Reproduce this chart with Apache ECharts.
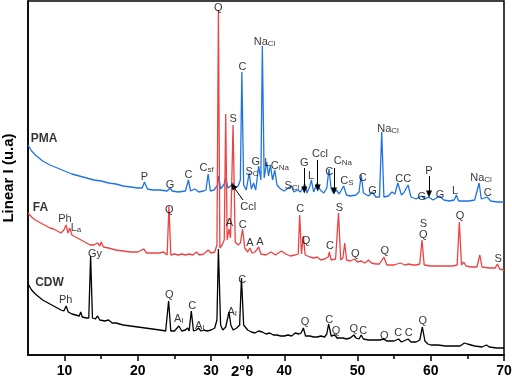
<!DOCTYPE html>
<html>
<head>
<meta charset="utf-8">
<script src="https://cdn.jsdelivr.net/npm/echarts@6/dist/echarts.min.js"></script>
<style>html,body{margin:0;padding:0;background:#fff}#c{width:512px;height:386px}</style>
</head>
<body>
<div id="c"></div>
<script>
// x tick labels
const tickLabels = [10, 20, 30, 40, 50, 60, 70];
const minorTicks = [15, 25, 35, 45, 55, 65];

// CDW (black) pattern: [2theta, intensity (a.u.)]
const cdw = [[5,71],[5.5,65],[6,61],[6.5,58],[7,55],[7.5,53],[8,51],[8.5,49],[9,47],[9.5,45],[9.9,44],[10.2,49],[10.5,43],[11,41],[11.5,40],[12,39],[12.2,43],[12.4,38],[13,37],[13.3,37],[13.55,99],[13.8,37],[14.2,36],[14.5,39],[14.8,35],[15.5,34],[16,35],[16.5,32],[17,32],[18,30],[19,29],[20,28],[21,27],[22,26],[23,25],[23.8,24],[24.2,54],[24.5,24],[25,24],[25.6,29],[26,24],[26.5,25],[26.8,27],[27.0,24],[27.3,44],[27.6,24],[28,25],[28.3,27],[28.6,24],[29,25],[29.5,24],[30,25],[30.5,27],[30.8,35],[31.0,106],[31.3,30],[31.6,25],[32,28],[32.2,30],[32.45,43],[32.7,30],[33,25],[33.5,27],[33.9,30],[34.15,77],[34.45,30],[35,25],[35.5,23],[36,22],[36.5,24],[37,23],[37.5,21],[38,22],[38.5,20],[39,20],[39.5,19],[40,19],[40.5,20],[41,19],[41.5,22],[42,21],[42.3,22],[42.6,27],[42.9,19],[43.5,19],[44,18],[44.5,18],[45,19],[45.5,18],[45.8,21],[46.05,31],[46.4,19],[46.9,20],[47.2,17],[47.5,17],[48,17],[48.5,16],[49,17],[49.5,20],[49.8,17],[50.2,16],[50.5,20],[50.8,16],[51.5,15],[52,15],[52.5,15],[53,15],[53.6,16],[54,14],[54.5,14],[55,14],[55.6,16],[56,13],[56.9,16],[57.3,13],[58,13],[58.5,15],[58.85,28],[59.2,14],[59.6,11],[60,10],[61,10],[62,9],[63,9],[64,9],[64.6,12],[65,11],[65.5,10],[66,9],[67,8],[67.6,10],[68,8],[69,7],[70,7]];

// FA (red) pattern
const fa = [[5,142],[5.5,138],[6,135],[6.5,133],[7,131],[7.5,129],[8,127],[8.5,126],[9,124],[9.5,122],[9.9,125],[10.2,130],[10.45,122],[10.7,127],[11.0,120],[11.5,118],[12,116],[12.5,114],[13,112],[13.5,110],[14,110],[14.5,112],[14.8,109],[15,113],[15.3,108],[16,107],[17,105],[18,104],[19,103],[20,103],[20.8,106],[21.2,102],[22,102],[23,102],[23.5,103],[24.0,100],[24.25,149],[24.5,100],[25,101],[25.5,100],[26,101],[26.5,100],[27,101],[27.5,100],[28,103],[28.4,100],[29,101],[29.6,105],[30,102],[30.5,103],[30.8,110],[31.0,345],[31.2,107],[31.5,110],[31.8,115],[32.0,241],[32.2,115],[32.45,126],[32.65,117],[33.0,230],[33.3,113],[33.7,110],[34.0,112],[34.3,126],[34.6,107],[35.0,103],[35.3,107],[35.6,102],[36.0,103],[36.5,108],[36.8,101],[37.5,100],[38.2,103],[38.8,100],[39.6,104],[40.2,101],[40.8,99],[41.5,100],[41.9,101],[42.1,140],[42.35,101],[42.6,119],[42.85,100],[43.5,98],[44,97],[44.5,98],[45,95],[45.5,96],[46.0,98],[46.15,103],[46.4,95],[47.0,96],[47.4,142],[47.7,95],[48.0,97],[48.25,112],[48.5,95],[49,94],[49.6,96],[50,93],[50.5,94],[51,92],[51.5,95],[51.9,92],[52.5,91],[53,91],[53.6,98],[54,90],[55,90],[55.8,92],[56.5,90],[57,91],[57.5,90],[58,90],[58.5,91],[58.8,115],[59.1,90],[60,89],[61,89],[62,89],[63,89],[63.6,90],[63.9,133],[64.2,90],[64.5,93],[64.8,89],[65.5,88],[66.3,88],[66.7,100],[67.0,88],[68,87],[68.8,87],[69.1,91],[69.4,86],[70,85]];

// PMA (blue) pattern
const pma = [[5,210],[5.5,204],[6,200],[6.5,197],[7,194],[7.5,192],[8,190],[9,187],[10,184],[11,181],[12,179],[13,177],[14,175],[15,174],[16,172],[17,171],[18,169],[19,168],[20,167],[20.6,167],[20.9,173],[21.3,166],[22,165],[23,165],[24,164],[24.4,167],[24.7,164],[25.5,163],[26.5,164],[26.9,175],[27.2,164],[27.8,166],[28.3,163],[29,164],[29.3,165],[29.6,181],[29.9,164],[30.4,165],[30.9,170],[31.05,179],[31.3,166],[31.8,171],[32.0,177],[32.3,167],[32.7,169],[33.0,172],[33.3,167],[33.7,169],[34.0,175],[34.2,283],[34.45,170],[34.8,165],[35.2,182],[35.5,166],[35.8,172],[36.1,165],[36.5,189],[36.8,175],[37.0,309],[37.25,177],[37.6,193],[37.85,179],[38.1,190],[38.4,175],[38.7,185],[39.0,170],[39.5,166],[40.0,164],[40.5,167],[41.0,169],[41.3,163],[41.8,165],[42.2,163],[42.8,171],[43.1,162],[43.5,169],[43.7,175],[44.0,163],[44.5,172],[44.9,165],[45.4,162],[45.8,167],[46.1,186],[46.4,166],[46.7,162],[47.1,165],[47.5,161],[48.1,169],[48.5,160],[49,159],[49.8,160],[50.2,163],[50.5,180],[50.8,162],[51.5,159],[52.0,163],[52.5,158],[53.0,158],[53.3,223],[53.6,158],[54.2,159],[54.7,163],[55.1,161],[55.5,172],[56.0,160],[56.3,162],[56.9,170],[57.3,158],[58,156],[58.7,159],[59.2,156],[59.7,158],[60.3,155],[61.2,159],[61.8,155],[62.5,154],[63.2,155],[63.5,160],[63.8,154],[64.5,154],[65.2,154],[66.0,155],[66.6,172],[66.9,156],[67.7,158],[68.2,154],[69,153],[70,153]];

// sample names
const sampleNames = [[7.18,216,'PMA'],[6.71,147,'FA'],[7.94,72,'CDW']];

// phase labels
const pmaLabels = [[20.9,178,'P'],[24.4,170,'G'],[26.9,180,'C'],[29.4,187,'C{s|sf}'],[34.3,288,'C'],[37.3,313,'Na{s|Cl}'],[35.6,183,'S{s|C}'],[36.1,193,'G'],[37.68,192,'L'],[39.4,189,'C{s|Na}'],[41.05,169,'S{s|Cl}'],[42.73,192,'G'],[43.65,179,'L'],[44.87,201,'Ccl'],[46.14,183,'C'],[48.0,194,'C{s|Na}'],[48.56,174,'C{s|S}'],[50.7,177,'C'],[52.04,164,'G'],[54.16,226,'Na{s|Cl}'],[56.25,176,'CC'],[59.76,184,'P'],[58.76,158,'G'],[61.26,160,'G'],[63.31,164,'L'],[66.86,177,'Na{s|Cl}'],[67.78,162,'C'],[35.08,148,'Ccl']];
const faLabels = [[30.99,347,'Q'],[33.03,236,'S'],[10.05,136,'Ph'],[11.55,127,'L{s|a}'],[24.3,145,'Q'],[32.49,132,'A'],[34.32,130,'C'],[35.32,112,'A'],[36.68,113,'A'],[42.18,146,'C'],[42.96,114,'Q'],[46.24,109,'C'],[47.51,147,'S'],[49.7,101,'Q'],[53.71,104,'Q'],[58.98,131,'S'],[58.98,120,'Q'],[63.99,139,'Q'],[69.22,96,'S']];
const cdwLabels = [[14.15,101,'Gy'],[10.15,55,'Ph'],[24.3,60,'Q'],[25.6,36,'A{s|I}'],[27.44,49,'C'],[28.45,29,'A{s|I}'],[32.9,43,'A{s|I}'],[34.26,75,'C'],[42.83,33,'Q'],[46.14,35,'C'],[47.06,24,'Q'],[49.48,26,'Q'],[50.79,24,'C'],[53.65,19,'Q'],[55.57,22,'C'],[56.99,22,'C'],[58.9,34,'Q']];

// arrows: [x1, y1, x2, y2]
const arrows = [[42.73,187,42.73,165],[44.56,195,44.56,167],[46.79,187,46.79,164],[59.76,179,59.76,161],[34.36,155,32.99,169]];

const FONT = '"Liberation Sans", Arial, sans-serif';
const chart = echarts.init(document.getElementById('c'), null, {renderer: 'canvas'});

function labelSeries(data, bold) {
  return {
    type: 'scatter', data: data, symbolSize: 0, silent: true, z: 10,
    label: {
      show: true, position: 'inside', color: '#000',
      fontFamily: FONT, fontSize: bold ? 12 : 11, fontWeight: bold ? 'bold' : 'normal',
      formatter: p => {
        const t = p.data[2];
        if (t.indexOf('{s|') < 0) return t;
        const i = t.indexOf('{s|');
        return '{m|' + t.slice(0, i) + '}' + t.slice(i);
      },
      rich: {
        m: {fontSize: 11, fontFamily: FONT, color: '#000', verticalAlign: 'top'},
        s: {fontSize: 8, fontFamily: FONT, color: '#000', verticalAlign: 'top', padding: [4, 0, 0, 0]}
      }
    }
  };
}

const option = {
  animation: false,
  backgroundColor: '#fff',
  grid: {left: 28, right: 8, top: 1, bottom: 31, show: true, borderColor: '#000', borderWidth: 1.5, containLabel: false, outerBoundsMode: 'none'},
  xAxis: [{
    type: 'value', min: 5, max: 70, position: 'bottom',
    axisLine: {show: true, lineStyle: {color: '#000', width: 1.5}},
    axisTick: {show: true, customValues: tickLabels, length: 6, lineStyle: {color: '#000', width: 1.5}},
    axisLabel: {customValues: tickLabels, color: '#000', fontWeight: 'bold', fontSize: 14, fontFamily: FONT, margin: 9},
    splitLine: {show: false}
  }, {
    type: 'value', min: 5, max: 70, position: 'bottom', gridIndex: 0,
    axisLine: {show: false},
    axisTick: {show: true, customValues: minorTicks, length: 4, lineStyle: {color: '#000', width: 1.5}},
    axisLabel: {show: false}, splitLine: {show: false}
  }],
  yAxis: {
    type: 'value', min: 0, max: 354,
    name: 'Linear I (u.a)', nameLocation: 'middle', nameGap: 12,
    nameTextStyle: {color: '#000', fontWeight: 'bold', fontSize: 15, fontFamily: FONT},
    axisLine: {show: true, lineStyle: {color: '#000', width: 1.5}},
    axisTick: {show: false}, axisLabel: {show: false}, splitLine: {show: false}
  },
  graphic: [{
    type: 'text', left: 231, top: 364,
    style: {text: '2°θ', fill: '#000', font: 'bold 15px ' + FONT}
  }],
  series: [
    {type: 'line', data: cdw, symbol: 'none', lineStyle: {color: '#000', width: 1.3}, z: 2},
    {type: 'line', data: pma, symbol: 'none', lineStyle: {color: '#1f74e4', width: 1.3}, z: 3,
     markLine: {
       silent: true, symbol: ['none', 'triangle'], symbolSize: [6, 7],
       label: {show: false},
       lineStyle: {color: '#000', width: 1, type: 'solid'},
       data: arrows.map(a => [{coord: [a[0], a[1]]}, {coord: [a[2], a[3]]}])
     }},
    {type: 'line', data: fa, symbol: 'none', lineStyle: {color: '#ef4242', width: 1.3}, z: 4},
    labelSeries(sampleNames, true),
    labelSeries(pmaLabels, false),
    labelSeries(faLabels, false),
    labelSeries(cdwLabels, false)
  ]
};
chart.setOption(option);
</script>
</body>
</html>
